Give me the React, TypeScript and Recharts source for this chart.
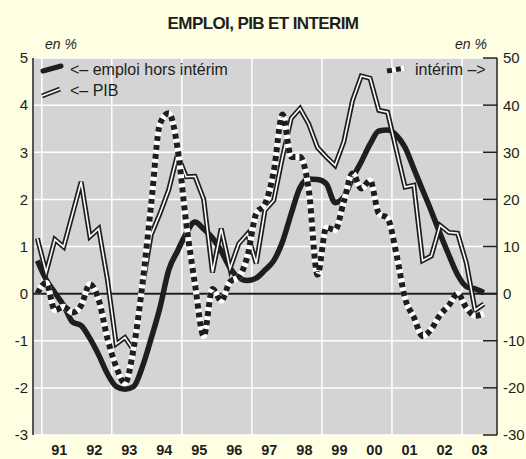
import { CartesianGrid, Line, LineChart, ReferenceLine, XAxis, YAxis } from 'recharts'

// trimestres (glissement annuel), de 1990T4 à 2003T3
const quarters = [
  '1990T4',
  '1991T1', '1991T2', '1991T3', '1991T4',
  '1992T1', '1992T2', '1992T3', '1992T4',
  '1993T1', '1993T2', '1993T3', '1993T4',
  '1994T1', '1994T2', '1994T3', '1994T4',
  '1995T1', '1995T2', '1995T3', '1995T4',
  '1996T1', '1996T2', '1996T3', '1996T4',
  '1997T1', '1997T2', '1997T3', '1997T4',
  '1998T1', '1998T2', '1998T3', '1998T4',
  '1999T1', '1999T2', '1999T3', '1999T4',
  '2000T1', '2000T2', '2000T3', '2000T4',
  '2001T1', '2001T2', '2001T3', '2001T4',
  '2002T1', '2002T2', '2002T3', '2002T4',
  '2003T1', '2003T2', '2003T3',
]

// emploi hors intérim, axe de gauche (%)
const emploi = [
  0.7,
  0.3, 0.02, -0.25, -0.6,
  -0.68, -0.95, -1.3, -1.7,
  -1.97, -2.03, -1.97, -1.55,
  -0.95, -0.3, 0.5, 0.9,
  1.28, 1.52, 1.37, 1.18,
  0.9, 0.55, 0.33, 0.28,
  0.33, 0.5, 0.7, 1.1,
  1.7, 2.25, 2.43, 2.42,
  2.33, 1.93, 2.05, 2.45,
  2.8, 3.17, 3.45, 3.47,
  3.36, 3.1, 2.65, 2.2,
  1.75, 1.27, 0.82, 0.4,
  0.15, 0.1, 0.02,
]

// PIB, axe de gauche (%)
const pib = [
  1.17,
  0.45, 1.15, 0.99, 1.68,
  2.37, 1.21, 1.38, 0.3,
  -1.07, -0.93, -1.2, 0.15,
  1.25, 1.7, 2.2, 2.95,
  2.48, 2.49, 2.0, 0.45,
  1.38, 0.53, 1.06, 1.27,
  0.64, 1.77, 1.98, 2.9,
  3.72, 3.93, 3.6, 3.1,
  2.9, 2.72, 3.22, 4.1,
  4.62, 4.57, 3.89, 3.85,
  3.05, 2.26, 2.3, 0.7,
  0.8, 1.45, 1.3, 1.28,
  0.65, -0.35, -0.22,
]

// intérim, axe de droite (%)
const interim = [
  0,
  2.3, -3.5, -2.8, -4.0,
  -2.5, 2.0, -1.3, -9.5,
  -15.5, -19, -11.5, 2,
  19, 36, 38.3, 31,
  15, 2, -9, 1,
  -1.5, 2.5, 3.5, 8,
  17, 19, 26, 38,
  29, 29, 22, 4,
  14, 13.5, 19.5, 25.5,
  22.3, 24, 17, 16,
  8.5, -1, -5, -9,
  -7.5, -4.5, -2.5, 0,
  -3, -4.7, -4.3,
]

const years = [1991, 1992, 1993, 1994, 1995, 1996, 1997, 1998, 1999, 2000, 2001, 2002, 2003]
const yearLabels = ['91', '92', '93', '94', '95', '96', '97', '98', '99', '00', '01', '02', '03']
const leftTicks = [-3, -2, -1, 0, 1, 2, 3, 4, 5]
const rightTicks = [-30, -20, -10, 0, 10, 20, 30, 40, 50]

const data = quarters.map((q, i) => ({
  q,
  t: Number(q.slice(0, 4)) + (Number(q.slice(5)) - 0.5) / 4,
  emploi: emploi[i],
  pib: pib[i],
  interim: interim[i],
}))

const font = '"Liberation Sans", Arial, sans-serif'
const ink = '#1e1e1e'

function RightTick({ x, y, payload }: any) {
  return (
    <g>
      <line x1={x - 20} x2={x - 6} y1={y} y2={y} stroke={ink} strokeWidth={1.5} />
      <text x={x} y={y} dy="0.36em" textAnchor="start" fontSize={15} fill={ink} fontFamily={font}>
        {payload.value}
      </text>
    </g>
  )
}

export default function App() {
  return (
    <div style={{ position: 'absolute', left: 0, top: 0, width: 526, height: 459, background: '#fefee2', fontFamily: font, color: ink, overflow: 'hidden' }}>
      <LineChart width={526} height={459} data={data} margin={{ top: 58, right: 0, bottom: 0, left: 0 }}>
        <XAxis xAxisId="grid" type="number" dataKey="t" domain={[1990.75, 2004]} ticks={years} hide />
        <XAxis
          type="number"
          dataKey="t"
          domain={[1990.75, 2004]}
          ticks={years.map((y) => y + 0.5)}
          tickFormatter={(v) => yearLabels[years.indexOf(Math.floor(v))]}
          axisLine={false}
          tickLine={false}
          tickSize={0}
          tickMargin={10}
          height={24}
          tick={{ fontSize: 14.5, fontWeight: 700, fill: ink, fontFamily: font }}
        />
        <YAxis
          yAxisId="left"
          domain={[-3, 5]}
          ticks={leftTicks}
          width={33}
          tickLine={false}
          tickSize={0}
          tickMargin={5}
          axisLine={{ stroke: ink, strokeWidth: 1.5 }}
          tick={{ fontSize: 15, fill: ink, fontFamily: font }}
        />
        <YAxis
          yAxisId="right"
          orientation="right"
          domain={[-30, 50]}
          ticks={rightTicks}
          width={29}
          tickLine={false}
          tickSize={0}
          tickMargin={6}
          axisLine={{ stroke: ink, strokeWidth: 1.5 }}
          tick={<RightTick />}
        />
        <CartesianGrid xAxisId="grid" yAxisId="left" stroke="#ffffff" strokeWidth={1.5} fill="#d4d4d4" fillOpacity={1} />
        <ReferenceLine yAxisId="left" y={0} stroke={ink} strokeWidth={2} />
        <Line yAxisId="left" type="monotone" dataKey="emploi" stroke={ink} strokeWidth={5.5} dot={false} isAnimationActive={false} strokeLinejoin="round" />
        <Line yAxisId="left" type="linear" dataKey="pib" stroke={ink} strokeWidth={5} dot={false} isAnimationActive={false} strokeLinejoin="miter" />
        <Line yAxisId="left" type="linear" dataKey="pib" stroke="#ffffff" strokeWidth={1.6} dot={false} isAnimationActive={false} strokeLinejoin="miter" />
        <Line yAxisId="right" type="monotone" dataKey="interim" stroke="#ffffff" strokeWidth={6} dot={false} isAnimationActive={false} />
        <Line yAxisId="right" type="monotone" dataKey="interim" stroke={ink} strokeWidth={6} strokeDasharray="5 4" dot={false} isAnimationActive={false} />
      </LineChart>

      <div style={{ position: 'absolute', left: 0, width: 526, top: 14, textAlign: 'center', fontSize: 17, fontWeight: 700, letterSpacing: -0.6 }}>
        EMPLOI, PIB ET INTERIM
      </div>
      <div style={{ position: 'absolute', left: 45, top: 36, fontSize: 14, fontStyle: 'italic' }}>en %</div>
      <div style={{ position: 'absolute', left: 455, top: 36, fontSize: 14, fontStyle: 'italic' }}>en %</div>

      <svg style={{ position: 'absolute', left: 0, top: 0 }} width={526} height={120}>
        <line x1={43} y1={71} x2={61} y2={66} stroke={ink} strokeWidth={5} strokeLinecap="round" />
        <line x1={42} y1={96} x2={60} y2={89} stroke={ink} strokeWidth={5} />
        <line x1={42} y1={96} x2={60} y2={89} stroke="#ffffff" strokeWidth={1.5} />
        <line x1={387} y1={71} x2={405} y2={68} stroke="#ffffff" strokeWidth={5} />
        <line x1={387} y1={71} x2={405} y2={68} stroke={ink} strokeWidth={5} strokeDasharray="5 4" />
      </svg>
      <div style={{ position: 'absolute', left: 70, top: 60, fontSize: 16, lineHeight: '20px' }}>&lt;– emploi hors intérim</div>
      <div style={{ position: 'absolute', left: 70, top: 81, fontSize: 16, lineHeight: '20px' }}>&lt;– PIB</div>
      <div style={{ position: 'absolute', left: 415, top: 60, fontSize: 16, lineHeight: '20px' }}>intérim –&gt;</div>
    </div>
  )
}
